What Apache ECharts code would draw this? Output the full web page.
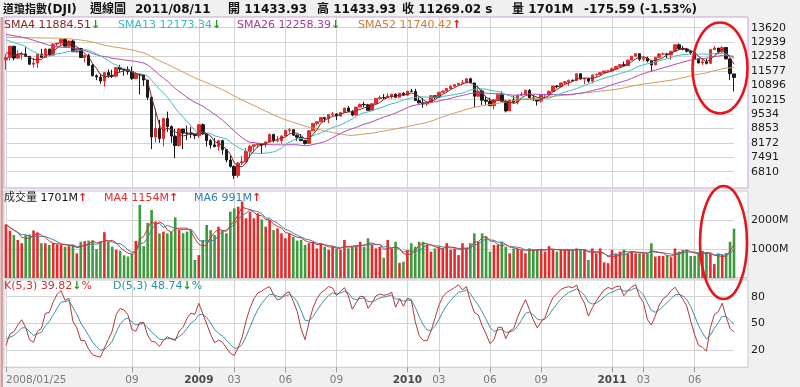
<!DOCTYPE html>
<html><head><meta charset="utf-8">
<script src="https://cdn.jsdelivr.net/npm/echarts/dist/echarts.min.js"></script>
<style>html,body{margin:0;padding:0;background:#f0f0f0}#c{width:800px;height:387px}</style>
</head><body><div id="c"></div>
<script>
// ---------- data ----------
const weeks = [
'2008/01/25','2008/02/01','2008/02/08','2008/02/15','2008/02/22','2008/02/29','2008/03/07','2008/03/14','2008/03/21','2008/03/28',
'2008/04/04','2008/04/11','2008/04/18','2008/04/25','2008/05/02','2008/05/09','2008/05/16','2008/05/23','2008/05/30','2008/06/06',
'2008/06/13','2008/06/20','2008/06/27','2008/07/04','2008/07/11','2008/07/18','2008/07/25','2008/08/01','2008/08/08','2008/08/15',
'2008/08/22','2008/08/29','2008/09/05','2008/09/12','2008/09/19','2008/09/26','2008/10/03','2008/10/10','2008/10/17','2008/10/24',
'2008/10/31','2008/11/07','2008/11/14','2008/11/21','2008/11/28','2008/12/05','2008/12/12','2008/12/19','2008/12/26','2009/01/02',
'2009/01/09','2009/01/16','2009/01/23','2009/01/30','2009/02/06','2009/02/13','2009/02/20','2009/02/27','2009/03/06','2009/03/13',
'2009/03/20','2009/03/27','2009/04/03','2009/04/10','2009/04/17','2009/04/24','2009/05/01','2009/05/08','2009/05/15','2009/05/22',
'2009/05/29','2009/06/05','2009/06/12','2009/06/19','2009/06/26','2009/07/03','2009/07/10','2009/07/17','2009/07/24','2009/07/31',
'2009/08/07','2009/08/14','2009/08/21','2009/08/28','2009/09/04','2009/09/11','2009/09/18','2009/09/25','2009/10/02','2009/10/09',
'2009/10/16','2009/10/23','2009/10/30','2009/11/06','2009/11/13','2009/11/20','2009/11/27','2009/12/04','2009/12/11','2009/12/18',
'2009/12/25','2010/01/01','2010/01/08','2010/01/15','2010/01/22','2010/01/29','2010/02/05','2010/02/12','2010/02/19','2010/02/26',
'2010/03/05','2010/03/12','2010/03/19','2010/03/26','2010/04/02','2010/04/09','2010/04/16','2010/04/23','2010/04/30','2010/05/07',
'2010/05/14','2010/05/21','2010/05/28','2010/06/04','2010/06/11','2010/06/18','2010/06/25','2010/07/02','2010/07/09','2010/07/16',
'2010/07/23','2010/07/30','2010/08/06','2010/08/13','2010/08/20','2010/08/27','2010/09/03','2010/09/10','2010/09/17','2010/09/24',
'2010/10/01','2010/10/08','2010/10/15','2010/10/22','2010/10/29','2010/11/05','2010/11/12','2010/11/19','2010/11/26','2010/12/03',
'2010/12/10','2010/12/17','2010/12/24','2010/12/31','2011/01/07','2011/01/14','2011/01/21','2011/01/28','2011/02/04','2011/02/11',
'2011/02/18','2011/02/25','2011/03/04','2011/03/11','2011/03/18','2011/03/25','2011/04/01','2011/04/08','2011/04/15','2011/04/22',
'2011/04/29','2011/05/06','2011/05/13','2011/05/20','2011/05/27','2011/06/03','2011/06/10','2011/06/17','2011/06/24','2011/07/01',
'2011/07/08','2011/07/15','2011/07/22','2011/07/29','2011/08/05','2011/08/11'];

const openP = [
12099,12207,12743,12183,12348,12381,12266,11894,11951,12361,
12216,12609,12325,12849,12891,13058,12745,12986,12480,12638,
12210,12307,11843,11347,11288,11100,11497,11370,11326,11734,
11659,11628,11543,11220,11421,11388,11143,10325,8451,8852,
8378,9325,8943,8497,8046,8829,8635,8630,8579,8515,
9034,8599,8281,8078,8001,8280,7850,7366,7062,6627,
7224,7279,7776,8018,8083,8131,8076,8212,8575,8268,
8277,8500,8764,8799,8539,8438,8280,8146,8743,9093,
9171,9370,9321,9505,9544,9441,9605,9820,9665,9488,
9865,9996,9972,9713,10023,10270,10318,10310,10389,10471,
10329,10520,10428,10618,10610,10173,10067,10012,10099,10402,
10325,10567,10625,10742,10851,10927,10997,11019,11204,11009,
10380,10620,10193,10137,9931,10212,10450,10144,9686,10198,
10098,10425,10466,10654,10303,10214,10150,10448,10463,10608,
10861,10830,11006,11063,11133,11118,11445,11193,11204,11092,
11382,11410,11492,11574,11578,11674,11787,11872,11824,12092,
12273,12391,12130,12170,12044,11859,12221,12377,12380,12342,
12505,12811,12638,12596,12512,12441,12151,11952,12004,11934,
12582,12657,12480,12681,12143,11433.93];

const highP = [
12378,12767,12743,12552,12481,12694,12280,12190,12400,12622,
12655,12622,12873,12891,13104,13136,13028,13058,12676,12666,
12343,12387,11902,11415,11450,11500,11647,11630,11760,11867,
11700,11790,11790,11520,11421,11400,11143,10325,9794,9265,
9365,9654,9000,8829,8880,8830,8990,8930,8600,9065,
9088,8620,8350,8400,8320,8320,7890,7570,7100,7250,
7550,7925,8085,8100,8160,8140,8250,8620,8600,8500,
8520,8800,8880,8810,8580,8590,8300,8770,9100,9190,
9400,9400,9510,9630,9560,9630,9830,9918,9720,9880,
10030,10120,10020,10050,10290,10410,10480,10520,10490,10520,
10530,10580,10630,10730,10730,10320,10300,10120,10420,10420,
10570,10630,10780,10900,10950,11000,11150,11210,11260,11010,
10880,10700,10400,10310,10220,10460,10600,10190,10200,10400,
10430,10580,10700,10720,10450,10250,10460,10480,10650,10870,
10900,11020,11100,11170,11170,11450,11450,11250,11250,11400,
11460,11520,11580,11600,11740,11800,11900,12020,12100,12280,
12400,12400,12290,12250,12060,12240,12420,12450,12430,12520,
12820,12876,12760,12640,12520,12580,12160,12150,12160,12600,
12750,12660,12750,12700,12145,11433.93];

const lowP = [
11635,12070,12070,12147,12110,12258,11860,11731,11720,12206,
12203,12301,12284,12700,12780,12744,12700,12478,12420,12187,
11980,11826,11315,11138,10962,10827,11260,11240,11270,11500,
11345,11400,11150,11200,10460,10860,10200,7882,8197,8176,
8000,8695,8175,7449,8000,7882,8300,8400,8350,8400,
8550,8000,7900,7960,7800,7610,7250,7005,6470,6516,
7120,7249,7450,7800,7950,7650,7960,8200,8200,8200,
8140,8480,8630,8500,8270,8250,8090,8120,8740,9000,
9150,9150,9100,9450,9250,9430,9600,9630,9430,9480,
9860,9870,9700,9680,10020,10230,10230,10300,10260,10290,
10320,10420,10420,10580,10160,10030,9835,9900,10080,10230,
10320,10530,10600,10700,10820,10900,10980,10990,10990,9870,
10370,9960,9970,9920,9760,10200,10120,9615,9680,10080,
9990,10380,10460,10290,10150,9940,10080,10330,10460,10600,
10750,10780,10950,10870,11050,11100,11160,10950,11010,10990,
11300,11390,11480,11540,11570,11630,11770,11820,11820,12090,
12260,12050,12030,11980,11555,11850,12200,12330,12180,12090,
12500,12570,12550,12450,12340,12100,11940,11860,11880,11930,
12580,12380,12400,12130,11140,10604];

const closeP = [
12207,12743,12183,12348,12381,12266,11894,11951,12361,12216,
12609,12325,12849,12891,13058,12745,12986,12480,12638,12210,
12307,11843,11347,11288,11100,11497,11370,11326,11734,11659,
11628,11543,11220,11421,11388,11143,10325,8451,8852,8378,
9325,8943,8497,8046,8829,8635,8630,8579,8515,9034,
8599,8281,8078,8001,8280,7850,7366,7062,6627,7224,
7279,7776,8018,8083,8131,8076,8212,8575,8268,8277,
8500,8764,8799,8539,8438,8280,8146,8743,9093,9171,
9370,9321,9505,9544,9441,9605,9820,9665,9488,9865,
9996,9972,9713,10023,10270,10318,10310,10389,10471,10329,
10520,10428,10618,10610,10173,10067,10012,10099,10402,10325,
10567,10625,10742,10851,10927,10997,11019,11204,11009,10380,
10620,10193,10137,9931,10212,10450,10144,9686,10198,10098,
10425,10466,10654,10303,10214,10150,10448,10463,10608,10861,
10830,11006,11063,11133,11118,11445,11193,11204,11092,11382,
11410,11492,11574,11578,11674,11787,11872,11824,12092,12273,
12391,12130,12170,12044,11859,12221,12377,12380,12342,12505,
12811,12638,12596,12512,12441,12151,11952,12004,11934,12582,
12657,12480,12681,12143,11444.61,11269.02];

// weekly volume, millions of shares
const volume = [
1850,1630,1480,1310,1200,1480,1500,1640,1570,1200,
1200,1140,1210,1160,1150,1080,1100,1140,850,1250,
1270,1290,1300,1000,1270,1580,1250,1080,970,940,
780,740,830,1280,2520,1100,1900,2350,1950,1540,
1600,1540,1600,2090,1650,1540,1600,1650,620,790,
1310,1830,1650,1480,1770,1650,1540,2290,2400,2460,
2640,2060,2290,2060,2230,2020,1770,2000,1650,1710,
1540,1370,1540,1420,1290,1310,1140,1200,1250,1020,
1200,1080,970,1080,1020,970,1310,1020,1080,1080,
1250,1080,1370,1140,1020,1080,700,1310,1020,1250,
520,560,970,1200,1080,1250,1250,1140,910,1020,
1080,1020,1200,970,1020,790,1200,1020,1200,1540,
1250,1540,1430,910,1140,1140,1250,1080,850,1020,
1020,970,850,1020,970,990,990,910,1100,970,
910,970,970,970,970,1020,970,970,620,1020,
850,1020,540,510,970,850,910,970,850,910,
850,850,850,850,1200,740,760,760,790,720,
1020,910,970,970,760,760,850,930,900,830,
480,850,805,860,1250,1701];

// closes of the 51 weeks before the first bar (moving-average warm-up)
const histClose = [
12653,12580,12767,12647,12114,12276,12110,12481,12354,12560,
12612,12962,13120,13264,13326,13556,13507,13668,13424,13639,
13360,13408,13611,13907,13851,13265,13182,13239,13079,13379,
13358,13113,13442,13820,13896,14066,14093,13522,13807,13595,
13042,13176,12981,13372,13625,13339,13450,13366,12800,12606,12099];
// highs / lows of the 4 weeks before the first bar (KD warm-up)
const histHigh = [13450,13365,12840,12700];
const histLow  = [13240,12800,12450,12050];
const kdStart = [22, 36];

const priceTicks = [6810,7491,8172,8853,9534,10215,10896,11577,12258,12939,13620];
const volTicks = [1000,2000];
const kdTicks = [20,50,80];
const tickWeeks = ['2008/01/25','2008/09/05','2009/01/02','2009/03/06','2009/06/05','2009/09/04','2010/01/08','2010/03/05','2010/06/04','2010/09/03','2011/01/07','2011/03/04','2011/06/03'];
const tickText  = ['2008/01/25','09','2009','03','06','09','2010','03','06','09','2011','03','06'];

// ---------- derived ----------
const allClose = histClose.concat(closeP);
function sma(n){
  return closeP.map((_, i) => {
    const e = histClose.length + i; let s = 0;
    for (let k = e - n + 1; k <= e; k++) s += allClose[k];
    return +(s / n).toFixed(2);
  });
}
function vma(n){
  return volume.map((_, i) => {
    const s0 = Math.max(0, i - n + 1); let t = 0;
    for (let k = s0; k <= i; k++) t += volume[k];
    return Math.round(t / (i - s0 + 1));
  });
}
const allHigh = histHigh.concat(highP), allLow = histLow.concat(lowP);
const kArr = [], dArr = [];
(function(){
  let K = kdStart[0], D = kdStart[1];
  for (let i = 0; i < closeP.length; i++) {
    const e = histHigh.length + i;
    let hh = -Infinity, ll = Infinity;
    for (let k = e - 4; k <= e; k++) { hh = Math.max(hh, allHigh[k]); ll = Math.min(ll, allLow[k]); }
    const rsv = (closeP[i] - ll) / (hh - ll) * 100;
    K = K * 2 / 3 + rsv / 3; D = D * 2 / 3 + K / 3;
    kArr.push(+K.toFixed(2)); dArr.push(+D.toFixed(2));
  }
})();

const tickIdx = tickWeeks.map(w => weeks.indexOf(w));
const tickSet = new Set(tickIdx);
const RED = '#e32b2b', GREEN = '#3d9a3d', BLACK = '#1a1a1a';
const FONT = "'DejaVu Sans','Noto Sans CJK TC',sans-serif";
const GRID_C = '#d3d3d3';

const L = 6, W = 728;
function grid(top, height){ return {left: L, width: W, top, height, outerBoundsMode: 'none', containLabel: false}; }

function frameX(gi, withLabels){
  return {
    type: 'category', gridIndex: gi, data: weeks, boundaryGap: false,
    axisLine: {show: false},
    axisTick: {show: withLabels, interval: (i) => tickSet.has(i), length: 5, lineStyle: {color: '#9a9a9a'}},
    axisLabel: withLabels ? {
      show: true, interval: (i) => tickSet.has(i), margin: 8, alignMinLabel: 'left',
      color: '#7a7a7a', fontSize: 10.5, fontFamily: FONT,
      formatter: (v) => { const t = tickText[tickWeeks.indexOf(v)] || ''; return t.length === 4 ? '{y|' + t + '}' : t; },
      rich: {y: {fontWeight: 'bold', color: '#4a4a4a', fontSize: 10.5, fontFamily: FONT}}
    } : {show: false},
    splitLine: {show: true, interval: (i) => tickSet.has(i), lineStyle: {color: GRID_C, width: 1}}
  };
}
function dataX(gi){ return {type: 'category', gridIndex: gi, data: weeks, boundaryGap: false, show: false}; }
function hiddenY(gi){ return {type: 'value', gridIndex: gi, show: false}; }
function valY(gi, min, max, interval, fmt){
  return {
    type: 'value', gridIndex: gi, min, max, interval, position: 'right', scale: true,
    axisLine: {show: false}, axisTick: {show: false},
    axisLabel: {show: true, margin: 17, color: '#1a1a1a', fontSize: 11, fontFamily: FONT, formatter: fmt},
    splitLine: {show: true, lineStyle: {color: GRID_C, width: 1}}
  };
}

const candleData = closeP.map((c, i) => [openP[i], c, lowP[i], highP[i]]);
const volData = volume.map((v, i) => ({value: v, itemStyle: {color: closeP[i] >= openP[i] ? RED : GREEN}}));

function line(name, xi, data, color){
  return {name, type: 'line', xAxisIndex: xi, yAxisIndex: xi, data, showSymbol: false, symbol: 'none',
    clip: false, lineStyle: {color, width: 1}, z: 3, silent: true};
}

function txt(x, y, text, rich, extra){
  return Object.assign({type: 'text', x, y, z: 100, silent: true,
    style: {text, rich, verticalAlign: 'middle', font: '11px ' + FONT}}, extra || {});
}
const r = (c, w, s) => ({fill: c, color: c, fontSize: s || 11, fontFamily: FONT, fontWeight: w || 'normal'});

const option = {
  backgroundColor: '#f0f0f0',
  animation: false,
  grid: [grid(17, 171), grid(27.7, 144), grid(191, 86.7), grid(220, 58), grid(280, 87.3), grid(296.7, 53.3)],
  xAxis: [frameX(0, false), dataX(1), frameX(2, false), dataX(3), frameX(4, true), dataX(5)],
  yAxis: [
    hiddenY(0),
    valY(1, 6810, 13620, 681, (v) => priceTicks.includes(v) ? String(v) : ''),
    hiddenY(2),
    valY(3, 0, 2000, 1000, (v) => volTicks.includes(v) ? v + 'M' : ''),
    hiddenY(4),
    valY(5, 20, 80, 30, (v) => kdTicks.includes(v) ? String(v) : '')
  ],
  series: [
    {type: 'candlestick', xAxisIndex: 1, yAxisIndex: 1, data: candleData, clip: false, barWidth: 3, silent: true, z: 2,
      itemStyle: {color: RED, color0: BLACK, borderColor: RED, borderColor0: BLACK, borderWidth: 1}},
    line('SMA52', 1, sma(52), '#d49a5a'),
    line('SMA26', 1, sma(26), '#b04cb0'),
    line('SMA13', 1, sma(13), '#3fbcc4'),
    line('SMA4', 1, sma(4), '#7a2626'),
    {type: 'bar', xAxisIndex: 3, yAxisIndex: 3, data: volData, barWidth: 2.6, clip: false, silent: true, z: 2},
    line('MA6', 3, vma(6), '#3c82aa'),
    line('MA4', 3, vma(4), '#d03434'),
    line('D', 5, dArr, '#3a93a3'),
    line('K', 5, kArr, '#b03a3a')
  ],
  graphic: {elements: [
    // panels
    {type: 'rect', z: -5, silent: true, shape: {x: 4, y: 17, width: 744, height: 171}, style: {fill: '#ffffff', stroke: '#c9a3d8', lineWidth: 1}},
    {type: 'rect', z: -5, silent: true, shape: {x: 4, y: 191, width: 744, height: 86.7}, style: {fill: '#ffffff', stroke: '#c8c8c8', lineWidth: 1}},
    {type: 'rect', z: -5, silent: true, shape: {x: 4, y: 280, width: 744, height: 87.3}, style: {fill: '#ffffff', stroke: '#c8c8c8', lineWidth: 1}},
    {type: 'rect', z: 60, silent: true, shape: {x: 0.5, y: 17, width: 2.5, height: 370}, style: {fill: '#d6a0a0'}},
    // title
    txt(3, 10, '{a|道瓊指數}{b|(DJI)}', {a: r('#111', 'bold', 11), b: r('#111', 'bold', 12)}),
    txt(90, 10, '{a|週線圖}', {a: r('#111', 'bold', 12)}),
    txt(135, 10, '{a|2011/08/11}', {a: r('#111', 'bold', 12)}),
    txt(228, 10, '{a|開 11433.93}', {a: r('#111', 'bold', 12)}),
    txt(317, 10, '{a|高 11433.93}', {a: r('#111', 'bold', 12)}),
    txt(402, 10, '{a|收 11269.02 s}', {a: r('#111', 'bold', 12)}),
    txt(512, 10, '{a|量 1701M}', {a: r('#111', 'bold', 12)}),
    txt(584, 10, '{a|-175.59 (-1.53%)}', {a: r('#111', 'bold', 12)}),
    // main legend
    txt(4, 25, '{a|SMA4 11884.51}{g|↓}', {a: r('#8b1f1f'), g: r('#1e9a1e', 'bold')}),
    txt(118, 25, '{a|SMA13 12173.34}{g|↓}', {a: r('#3ab8c0'), g: r('#1e9a1e', 'bold')}),
    txt(237, 25, '{a|SMA26 12258.39}{g|↓}', {a: r('#a8389e'), g: r('#1e9a1e', 'bold')}),
    txt(358, 25, '{a|SMA52 11740.42}{g|↑}', {a: r('#d07a34'), g: r('#e02020', 'bold')}),
    // volume legend
    txt(4, 198, '{c|成交量} {a|1701M}{g|↑}', {c: r('#222', 'normal', 11), a: r('#111'), g: r('#e02020', 'bold')}),
    txt(104, 198, '{a|MA4 1154M}{g|↑}', {a: r('#e03030'), g: r('#e02020', 'bold')}),
    txt(194, 198, '{a|MA6 991M}{g|↑}', {a: r('#2f7fae'), g: r('#e02020', 'bold')}),
    // KD legend
    txt(4, 286, '{a|K(5,3) 39.82}{g|↓}{a|%}', {a: r('#c03535'), g: r('#1e9a1e', 'bold')}),
    txt(113, 286, '{a|D(5,3) 48.74}{g|↓}{a|%}', {a: r('#2f8fa6'), g: r('#1e9a1e', 'bold')}),
    // annotations
    {type: 'ellipse', z: 110, silent: true, shape: {cx: 720, cy: 68, rx: 27.5, ry: 45.5}, style: {fill: 'none', stroke: '#e8141c', lineWidth: 2.6}},
    {type: 'ellipse', z: 110, silent: true, shape: {cx: 723.5, cy: 242.5, rx: 23.5, ry: 56.5}, style: {fill: 'none', stroke: '#e8141c', lineWidth: 2.6}}
  ]}
};

const chart = echarts.init(document.getElementById('c'), null, {renderer: 'canvas'});
chart.setOption(option);
</script>
</body></html>
